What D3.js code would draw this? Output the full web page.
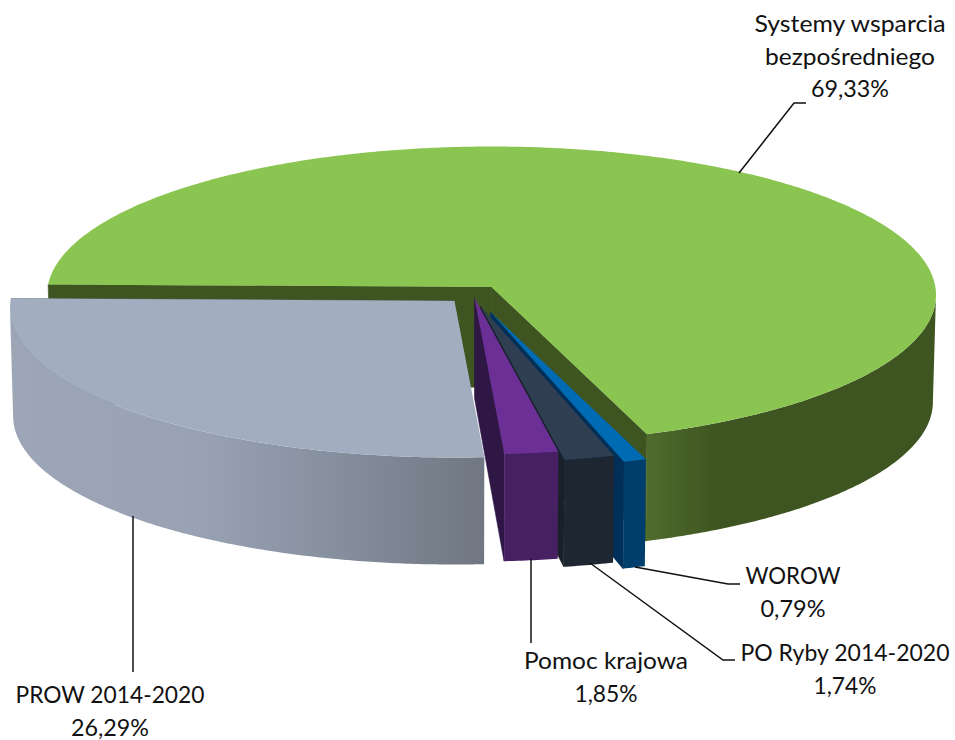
<!DOCTYPE html>
<html>
<head>
<meta charset="utf-8">
<script src="https://cdn.jsdelivr.net/npm/d3@7"></script>
<style>
  html, body { margin: 0; padding: 0; background: #fff; }
  text { font-family: Lato, "Open Sans", sans-serif; font-size: 23.5px; fill: #111; }
</style>
</head>
<body>
<div id="chart"></div>
<script>
// Data, clockwise from the left edge of the pie
const categories = ["Systemy wsparcia bezpośredniego", "WOROW", "PO Ryby 2014-2020", "Pomoc krajowa", "PROW 2014-2020"];
const shares = [69.33, 0.79, 1.74, 1.85, 26.29];

const width = 955, height = 740;

// Pie projection: ellipse of the top face, apex sits a bit above ellipse centre (perspective)
const cx = 491.5, cy = 295, rx = 444.5, ry = 148.5;
const apexLift = 8;
const rimDepth = 107, apexDepth = 100, bottomScale = 0.993;
const firstAngle = -89;
const widestAngle = 93;

// Pull-out of each slice, px
const explode = [[0, 0], [-1, 25], [-11, 19], [-17, 11], [-37, 14]];

const topColors = ["#8bc551", "#006bb5", "#2f3e50", "#6b2f96", "#a2aebf"];
const faceColors = ["#3e5421", "#00305a", "#1a2029", "#2e1645", "#707783"];
const wallStops = [
    [["0%", "#506c2c"], ["25%", "#3e5421"], ["100%", "#3e5421"]],
    [["0%", "#003f6d"], ["100%", "#003f6d"]],
    [["0%", "#1e2631"], ["100%", "#1e2631"]],
    [["0%", "#471f63"], ["100%", "#471f63"]],
    [["0%", "#9ca6b7"], ["40%", "#98a2b3"], ["70%", "#858e9d"], ["100%", "#707782"]],
];

// Labels and leader lines
const labelLines = [
    ["Systemy wsparcia", "bezpośredniego", "69,33%"],
    ["WOROW", "0,79%"],
    ["PO Ryby 2014-2020", "1,74%"],
    ["Pomoc krajowa", "1,85%"],
    ["PROW 2014-2020", "26,29%"],
];
const labelWidths = [[191, 170, 78], [95, 65], [209, 63], [164, 63], [189, 78]];
const labelAnchors = [[850, 32], [793, 584], [845, 661], [606, 669], [110, 703]];
const lineStep = 32.5;
const leaders = [
    [[739, 173], [794, 103], [806, 103]],
    [[635, 567], [728, 584], [740, 584]],
    [[590, 563], [723, 660], [735, 660]],
    [[531, 559], [531, 643]],
    [[133, 516], [133, 672]],
];

const svg = d3.select("#chart").append("svg")
    .attr("width", width)
    .attr("height", height);

const defs = svg.append("defs");

const e = apexLift / ry;
const s = Math.sqrt(1 - e * e);

// Rim point of the top face for a pie angle in degrees (0 = back, clockwise)
function rim(deg) {
    const a = deg * Math.PI / 180;
    const den = 1 + e * Math.cos(a);
    return [
        cx + rx * s * Math.sin(a) / den,
        cy - ry * (Math.cos(a) + e) / den,
    ];
}

// Same point on the bottom face
function rimLow(deg) {
    const p = rim(deg);
    return [cx + (p[0] - cx) * bottomScale, p[1] + rimDepth];
}

const apex = [cx, cy - apexLift];
const apexLow = [cx, cy - apexLift + apexDepth];

const arcs = d3.pie().sort(null)
    .startAngle(firstAngle * Math.PI / 180)
    .endAngle((firstAngle + 360) * Math.PI / 180)(shares);

const line = d3.line();
const deg = (r) => r * 180 / Math.PI;

arcs.forEach((d, i) => {
    const start = deg(d.startAngle), end = deg(d.endAngle);
    const g = svg.append("g")
        .attr("class", "slice")
        .attr("transform", `translate(${explode[i][0]},${explode[i][1]})`);

    // Sample the curved part of the rim
    const angles = d3.range(start, end, 0.5).concat([end]);

    // Front facing part of the outer wall only
    const wallAngles = angles.filter((a) => a >= widestAngle && a <= 360 - widestAngle);
    const wallTop = wallAngles.map(rim);
    const wallLow = wallAngles.map(rimLow).reverse();
    const xr = d3.extent(wallTop, (p) => p[0]);

    const grad = defs.append("linearGradient")
        .attr("id", `wall-${i}`)
        .attr("gradientUnits", "userSpaceOnUse")
        .attr("x1", xr[0])
        .attr("x2", xr[1])
        .attr("y1", 0)
        .attr("y2", 0);
    grad.selectAll("stop")
        .data(wallStops[i])
        .join("stop")
        .attr("offset", (c) => c[0])
        .attr("stop-color", (c) => c[1]);

    // Cut faces: the start face shows only on the green slice
    if (i === 0) {
        g.append("path")
            .attr("d", line([rim(start), apex, apexLow, rimLow(start)]) + "Z")
            .attr("fill", faceColors[i])
            .attr("stroke", faceColors[i])
            .attr("stroke-width", 0.6);
    }
    g.append("path")
        .attr("d", line([apex, rim(end), rimLow(end), apexLow]) + "Z")
        .attr("fill", faceColors[i])
        .attr("stroke", faceColors[i])
        .attr("stroke-width", 0.6);

    g.append("path")
        .attr("d", line(wallTop.concat(wallLow)) + "Z")
        .attr("fill", `url(#wall-${i})`);

    g.append("path")
        .attr("d", line([apex].concat(angles.map(rim))) + "Z")
        .attr("fill", topColors[i]);
});

// Leader lines
svg.append("g")
    .selectAll("path")
    .data(leaders)
    .join("path")
    .attr("d", (d) => line(d))
    .attr("fill", "none")
    .attr("stroke", "#111")
    .attr("stroke-width", 1.5);

// Labels, one text per line, fitted to the width
const labels = svg.append("g")
    .selectAll("g")
    .data(labelLines)
    .join("g")
    .attr("transform", (d, i) => `translate(${labelAnchors[i][0]},${labelAnchors[i][1]})`);

labels.each(function (lines, i) {
    d3.select(this).selectAll("text")
        .data(lines)
        .join("text")
        .attr("text-anchor", "middle")
        .attr("y", (d, j) => j * lineStep)
        .attr("textLength", (d, j) => labelWidths[i][j])
        .attr("lengthAdjust", "spacingAndGlyphs")
        .text((d) => d);
});
</script>
</body>
</html>
